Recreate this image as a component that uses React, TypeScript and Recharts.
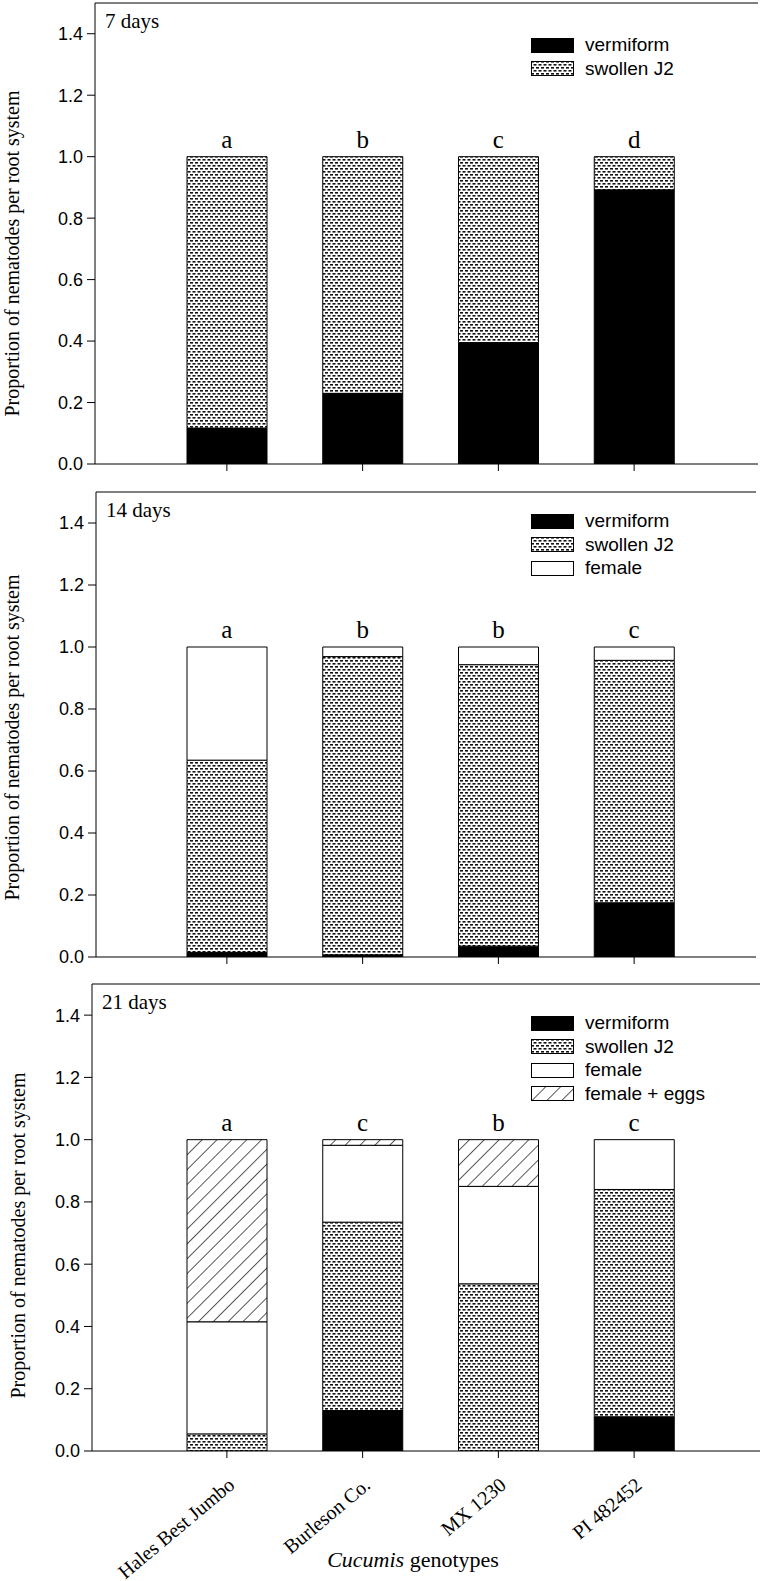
import React from 'react';
import {
  BarChart,
  Bar,
  XAxis,
  YAxis,
  ReferenceLine,
  ReferenceDot,
  Legend,
} from 'recharts';

const genotypes = ['Hales Best Jumbo', 'Burleson Co.', 'MX 1230', 'PI 482452'];

// 7 days
const vermiform7 = [0.117, 0.23, 0.395, 0.892];
const swollen7 = [0.883, 0.77, 0.605, 0.108];
const letters7 = ['a', 'b', 'c', 'd'];

// 14 days
const vermiform14 = [0.015, 0.007, 0.035, 0.175];
const swollen14 = [0.62, 0.962, 0.908, 0.782];
const female14 = [0.365, 0.031, 0.057, 0.043];
const letters14 = ['a', 'b', 'b', 'c'];

// 21 days
const vermiform21 = [0, 0.13, 0, 0.11];
const swollen21 = [0.055, 0.605, 0.537, 0.73];
const female21 = [0.36, 0.247, 0.313, 0.16];
const eggs21 = [0.585, 0.018, 0.15, 0];
const letters21 = ['a', 'c', 'b', 'c'];

const yTicks = [0, 0.2, 0.4, 0.6, 0.8, 1.0, 1.2, 1.4];

const SERIF = '"Liberation Serif", "Times New Roman", serif';
const SANS = '"Liberation Sans", Arial, sans-serif';

const SERIES = {
  vermiform: { name: 'vermiform', fill: '#000' },
  swollen: { name: 'swollen J2', fill: 'url(#dots)' },
  female: { name: 'female', fill: '#fff' },
  eggs: { name: 'female + eggs', fill: 'url(#hatch)' },
};

const Patterns = () => (
  <svg width={0} height={0} style={{ position: 'absolute' }}>
    <defs>
      <pattern id="dots" width="5" height="6" patternUnits="userSpaceOnUse">
        <rect width="5" height="6" fill="#fff" />
        <rect x="0" y="0" width="3" height="1.6" fill="#111" />
        <rect x="2.5" y="3" width="3" height="1.6" fill="#111" />
        <rect x="-2.5" y="3" width="3" height="1.6" fill="#111" />
      </pattern>
      <pattern id="hatch" width="10.5" height="10.5" patternUnits="userSpaceOnUse" patternTransform="rotate(45)">
        <rect width="10.5" height="10.5" fill="#fff" />
        <line x1="0" y1="0" x2="0" y2="10.5" stroke="#000" strokeWidth="1.3" />
      </pattern>
    </defs>
  </svg>
);

const LegendBox = ({ keys }: { keys: string[] }) => (
  <div style={{ fontFamily: SANS, fontSize: 19, color: '#000' }}>
    {keys.map((k) => (
      <div key={k} style={{ display: 'flex', alignItems: 'center', height: 23.5 }}>
        <svg width={43} height={15}>
          <rect x={0.5} y={0.5} width={42} height={14} fill={SERIES[k].fill} stroke="#000" />
        </svg>
        <span style={{ marginLeft: 11 }}>{SERIES[k].name}</span>
      </div>
    ))}
  </div>
);

const YTitle = ({ viewBox, cx, dy }: any) => {
  const y = viewBox.y + viewBox.height / 2 + dy;
  return (
    <text
      x={cx}
      y={y}
      transform={`rotate(-90, ${cx}, ${y})`}
      textAnchor="middle"
      fontFamily={SERIF}
      fontSize={20}
      fill="#000"
    >
      Proportion of nematodes per root system
    </text>
  );
};

const NoTick = () => <g />;

const SlantTick = ({ x, y, payload }: any) => {
  const ax = x + 9;
  const ay = y + 27;
  return (
    <g transform={`translate(${ax}, ${ay})`}>
      <text
        x={0}
        y={0}
        transform="rotate(-40)"
        textAnchor="end"
        fontFamily={SERIF}
        fontSize={20}
        fill="#000"
      >
        {payload.value}
      </text>
    </g>
  );
};

const XTitle = ({ viewBox }: any) => (
  <text x={413} y={viewBox.y + 116} textAnchor="middle" fontFamily={SERIF} fontSize={22} fill="#000">
    <tspan fontStyle="italic">Cucumis</tspan> genotypes
  </text>
);

function Panel({
  data,
  keys,
  letters,
  title,
  top,
  height,
  margin,
  yWidth,
  pad,
  xHeight,
  legendTop,
  labelX,
  labelDy,
  bottomLabels,
}: any) {
  return (
    <div style={{ position: 'absolute', left: 0, top, width: 763, height }}>
      <BarChart width={763} height={height} data={data} margin={margin} barSize={80}>
        <XAxis
          dataKey="name"
          interval={0}
          padding={pad}
          height={xHeight}
          axisLine={{ stroke: '#000' }}
          tickLine={{ stroke: '#000' }}
          tickSize={7}
          tick={bottomLabels ? <SlantTick /> : <NoTick />}
          label={bottomLabels ? { content: (p: any) => <XTitle {...p} /> } : undefined}
        />
        <YAxis
          width={yWidth}
          domain={[0, 1.5]}
          ticks={yTicks}
          allowDataOverflow
          tickFormatter={(v: number) => v.toFixed(1)}
          axisLine={{ stroke: '#000' }}
          tickLine={{ stroke: '#000' }}
          tickSize={8}
          tickMargin={4}
          tick={{ fill: '#000', fontSize: 18, fontFamily: SANS }}
          label={{ content: (p: any) => <YTitle {...p} cx={labelX} dy={labelDy} /> }}
        />
        {/* right border of the frame */}
        <YAxis
          yAxisId="right"
          orientation="right"
          width={0}
          domain={[0, 1.5]}
          tick={false}
          tickLine={false}
          axisLine={{ stroke: '#000' }}
        />
        {/* top border of the frame + panel title */}
        <ReferenceLine
          y={1.5}
          stroke="#000"
          strokeWidth={1}
          label={{
            value: title,
            position: 'insideTopLeft',
            offset: 10,
            fontSize: 21,
            fontFamily: SERIF,
            fill: '#000',
          }}
        />
        {keys.map((k: string) => (
          <Bar
            key={k}
            dataKey={k}
            name={SERIES[k].name}
            stackId="s"
            fill={SERIES[k].fill}
            stroke="#000"
            strokeWidth={1}
            isAnimationActive={false}
          />
        ))}
        {genotypes.map((g, i) => (
          <ReferenceDot
            key={g}
            x={g}
            y={1}
            r={0}
            fill="none"
            stroke="none"
            label={{
              value: letters[i],
              position: 'top',
              offset: 9,
              fontSize: 25,
              fontFamily: SERIF,
              fill: '#000',
            }}
          />
        ))}
        <Legend
          layout="horizontal"
          verticalAlign="middle"
          align="center"
          wrapperStyle={{ left: 531, top: legendTop, width: 230 }}
          content={() => <LegendBox keys={keys} />}
        />
      </BarChart>
    </div>
  );
}

const data7 = genotypes.map((name, i) => ({ name, vermiform: vermiform7[i], swollen: swollen7[i] }));
const data14 = genotypes.map((name, i) => ({
  name,
  vermiform: vermiform14[i],
  swollen: swollen14[i],
  female: female14[i],
}));
const data21 = genotypes.map((name, i) => ({
  name,
  vermiform: vermiform21[i],
  swollen: swollen21[i],
  female: female21[i],
  eggs: eggs21[i],
}));

export default function App() {
  return (
    <div style={{ position: 'absolute', left: 0, top: 0, width: 763, height: 1581, background: '#fff' }}>
      <Patterns />
      <Panel
        data={data7}
        keys={['vermiform', 'swollen']}
        letters={letters7}
        title="7 days"
        top={0}
        height={500}
        margin={{ top: 3, right: 5, left: 0, bottom: 6 }}
        yWidth={95}
        pad={{ left: 64, right: 56 }}
        xHeight={30}
        legendTop={33.5}
        labelX={19}
        labelDy={20}
      />
      <Panel
        data={data14}
        keys={['vermiform', 'swollen', 'female']}
        letters={letters14}
        title="14 days"
        top={480}
        height={510}
        margin={{ top: 12, right: 7, left: 0, bottom: 3 }}
        yWidth={96}
        pad={{ left: 63, right: 54 }}
        xHeight={30}
        legendTop={29.5}
        labelX={19}
        labelDy={13}
      />
      <Panel
        data={data21}
        keys={['vermiform', 'swollen', 'female', 'eggs']}
        letters={letters21}
        title="21 days"
        top={970}
        height={611}
        margin={{ top: 14, right: 3, left: 0, bottom: 5 }}
        yWidth={92}
        pad={{ left: 67, right: 58 }}
        xHeight={125}
        legendTop={41.5}
        labelX={25}
        labelDy={18}
        bottomLabels
      />
    </div>
  );
}
